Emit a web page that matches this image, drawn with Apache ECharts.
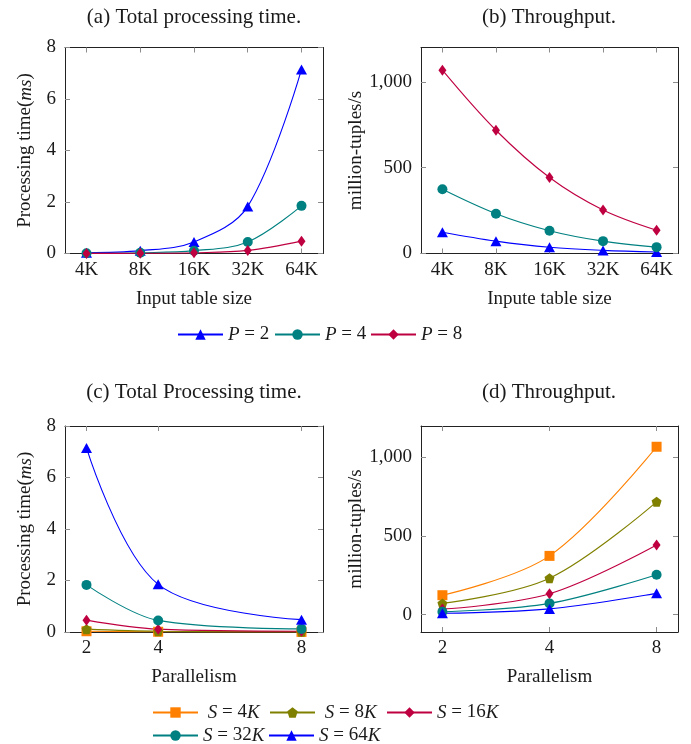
<!DOCTYPE html>
<html>
<head>
<meta charset="utf-8">
<script src="https://cdn.jsdelivr.net/npm/echarts@6/dist/echarts.min.js"></script>
<style>
html,body{margin:0;padding:0;background:#fff;}
#chart{width:691px;height:744px;}
</style>
</head>
<body>
<div id="chart"></div>
<script>
// ---------- data ----------
const sizeLabels = ['4K', '8K', '16K', '32K', '64K'];
const sizeIndex = [0, 1, 2, 3, 4];
const timeP2 = [0.03, 0.11, 0.45, 1.83, 7.15];
const timeP4 = [0.01, 0.03, 0.11, 0.45, 1.85];
const timeP8 = [0.004, 0.01, 0.03, 0.12, 0.48];
const tputP2 = [124, 72, 36, 18, 9];
const tputP4 = [374, 232, 133, 72, 37];
const tputP8 = [1068, 718, 443, 254, 136];

const parallelism = [2, 4, 8];
const timeS4K = [0.03, 0.01, 0.004];
const timeS8K = [0.11, 0.03, 0.01];
const timeS16K = [0.46, 0.11, 0.03];
const timeS32K = [1.83, 0.45, 0.12];
const timeS64K = [7.15, 1.85, 0.48];
const tputS4K = [124, 374, 1068];
const tputS8K = [72, 232, 718];
const tputS16K = [36, 133, 443];
const tputS32K = [18, 72, 254];
const tputS64K = [9, 37, 136];

const timeTicks = [0, 2, 4, 6, 8];
const tputTicks = [0, 500, 1000];

// ---------- style ----------
const FONT = 'Liberation Serif';
const TXT = '#1a1a1a';
const C = {blue: '#0000ff', teal: '#008080', purple: '#bf0040', orange: '#ff8000', olive: '#808000'};
const PENT = 'path://M0,-1L0.951,-0.309L0.588,0.809L-0.588,0.809L-0.951,-0.309Z';
const SYM = {
  tri: {symbol: 'triangle', symbolSize: [11, 10]},
  circ: {symbol: 'circle', symbolSize: 10},
  dia: {symbol: 'diamond', symbolSize: [8, 11]},
  sq: {symbol: 'rect', symbolSize: 10},
  pent: {symbol: PENT, symbolSize: 10}
};
const fmtNum = v => String(v).replace(/\B(?=(\d{3})+(?!\d))/g, ',');

const grids = [
  {left: 65, top: 47.5, width: 258, height: 206},
  {left: 421, top: 47.5, width: 257, height: 206},
  {left: 65, top: 426, width: 258, height: 206},
  {left: 421, top: 426, width: 257, height: 206}
];

const xAxes = [], yAxes = [];
function frame(g, x, y) {
  const line = {show: true, onZero: false, lineStyle: {color: '#222', width: 1}};
  const tick = vals => ({show: true, inside: true, length: 5, customValues: vals, lineStyle: {color: '#8c8c8c', width: 1}});
  const lab = {fontFamily: FONT, fontSize: 19, color: TXT};
  const nameStyle = {fontFamily: FONT, fontSize: 19, color: TXT,
    rich: {i: {fontFamily: FONT, fontSize: 19, fontStyle: 'italic', color: TXT}}};
  const xb = {gridIndex: g, type: x.type, min: x.min, max: x.max, position: 'bottom',
    axisLine: line, axisTick: tick(x.ticks), splitLine: {show: false},
    axisLabel: Object.assign({show: true, margin: 7, customValues: x.ticks, formatter: x.fmt}, lab),
    name: x.name, nameLocation: 'middle', nameGap: 36, nameTextStyle: nameStyle};
  if (x.logBase) xb.logBase = x.logBase;
  const xt = Object.assign({}, xb, {position: 'top', axisLabel: {show: false}, name: ''});
  const yl = {gridIndex: g, type: 'value', min: y.min, max: y.max, position: 'left',
    axisLine: line, axisTick: tick(y.ticks), splitLine: {show: false},
    axisLabel: Object.assign({show: true, margin: 9, customValues: y.ticks, formatter: y.fmt}, lab),
    name: y.name, nameLocation: 'middle', nameGap: y.gap, nameTextStyle: nameStyle};
  const yr = Object.assign({}, yl, {position: 'right', axisLabel: {show: false}, name: ''});
  xAxes.push(xb, xt); yAxes.push(yl, yr);
}
frame(0, {type: 'value', min: -0.4, max: 4.4, ticks: sizeIndex, fmt: v => sizeLabels[Math.round(v)], name: 'Input table size'},
         {min: 0, max: 8, ticks: timeTicks, fmt: v => String(v), name: 'Processing time({i|ms})', gap: 30});
frame(1, {type: 'value', min: -0.4, max: 4.4, ticks: sizeIndex, fmt: v => sizeLabels[Math.round(v)], name: 'Inpute table size'},
         {min: 0, max: 1200, ticks: tputTicks, fmt: v => fmtNum(v), name: 'million-tuples/s', gap: 53});
frame(2, {type: 'value', min: 1.4, max: 8.6, ticks: parallelism, fmt: v => String(v), name: 'Parallelism'},
         {min: 0, max: 8, ticks: timeTicks, fmt: v => String(v), name: 'Processing time({i|ms})', gap: 30});
frame(3, {type: 'log', logBase: 2, min: Math.pow(2, 0.8), max: Math.pow(2, 3.2), ticks: parallelism, fmt: v => String(Math.round(v)), name: 'Parallelism'},
         {min: -110, max: 1200, ticks: tputTicks, fmt: v => fmtNum(v), name: 'million-tuples/s', gap: 53});

function ser(name, g, xs, ys, color, sym) {
  return Object.assign({
    type: 'line', name: name, xAxisIndex: g * 2, yAxisIndex: g * 2,
    data: xs.map((x, i) => [x, ys[i]]),
    smooth: 0.35, showAllSymbol: true, animation: false,
    lineStyle: {color: color, width: 1.1},
    itemStyle: {color: color, borderWidth: 0},
    emphasis: {disabled: true}
  }, sym);
}

const series = [
  ser('P = 2', 0, sizeIndex, timeP2, C.blue, SYM.tri),
  ser('P = 4', 0, sizeIndex, timeP4, C.teal, SYM.circ),
  ser('P = 8', 0, sizeIndex, timeP8, C.purple, SYM.dia),
  ser('P = 2', 1, sizeIndex, tputP2, C.blue, SYM.tri),
  ser('P = 4', 1, sizeIndex, tputP4, C.teal, SYM.circ),
  ser('P = 8', 1, sizeIndex, tputP8, C.purple, SYM.dia),
  ser('S = 4K', 2, parallelism, timeS4K, C.orange, SYM.sq),
  ser('S = 8K', 2, parallelism, timeS8K, C.olive, SYM.pent),
  ser('S = 16K', 2, parallelism, timeS16K, C.purple, SYM.dia),
  ser('S = 32K', 2, parallelism, timeS32K, C.teal, SYM.circ),
  ser('S = 64K', 2, parallelism, timeS64K, C.blue, SYM.tri),
  ser('S = 4K', 3, parallelism, tputS4K, C.orange, SYM.sq),
  ser('S = 8K', 3, parallelism, tputS8K, C.olive, SYM.pent),
  ser('S = 16K', 3, parallelism, tputS16K, C.purple, SYM.dia),
  ser('S = 32K', 3, parallelism, tputS32K, C.teal, SYM.circ),
  ser('S = 64K', 3, parallelism, tputS64K, C.blue, SYM.tri)
];

function leg(name, left, top, pad) {
  return {
    data: [name], left: left, top: top, itemWidth: 45, itemHeight: 13, itemGap: 0,
    selectedMode: false, padding: 0,
    formatter: n => (pad ? ' ' : '') + n.replace(/^([PS])/, '{i|$1}').replace(/K$/, '{i|K}'),
    textStyle: {fontFamily: FONT, fontSize: 19, color: TXT,
      rich: {i: {fontFamily: FONT, fontSize: 19, fontStyle: 'italic', color: TXT}}}
  };
}
const legends = [
  leg('P = 2', 177, 325, false), leg('P = 4', 274, 325, false), leg('P = 8', 370, 325, false),
  leg('S = 4K', 152, 703, true), leg('S = 8K', 269, 703, true), leg('S = 16K', 386, 703, false),
  leg('S = 32K', 152, 726, false), leg('S = 64K', 268, 726, false)
];

function title(text, x, y) {
  return {type: 'text', x: x, y: y, silent: true,
    style: {text: text, align: 'center', verticalAlign: 'middle', fontFamily: FONT, fontSize: 21, fill: TXT}};
}

const chart = echarts.init(document.getElementById('chart'), null, {renderer: 'canvas'});
chart.setOption({
  backgroundColor: '#fff',
  animation: false,
  grid: grids,
  xAxis: xAxes,
  yAxis: yAxes,
  legend: legends,
  series: series,
  graphic: [
    title('(a) Total processing time.', 194, 17),
    title('(b) Throughput.', 549, 17),
    title('(c) Total Processing time.', 194, 392),
    title('(d) Throughput.', 549, 392)
  ]
});
</script>
</body>
</html>
